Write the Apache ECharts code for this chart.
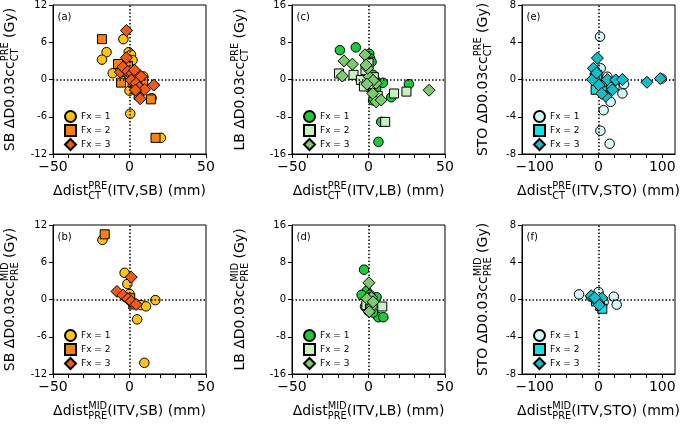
<!DOCTYPE html>
<html><head><meta charset="utf-8">
<script src="https://cdn.jsdelivr.net/npm/echarts@6/dist/echarts.min.js"></script>
<style>html,body{margin:0;padding:0;background:#fff}#c{width:685px;height:426px}</style>
</head><body><div id="c"></div>
<script>
const FONT = 'DejaVu Sans';

// ---------- data (x = Δdist mm, y = ΔD0.03cc Gy) ----------
// (a) SB, CT -> PRE
const sbPreFx1 = [[-4,6.5],[-15,4.4],[-18,3.2],[-0.5,4.4],[1,4.0],[2,3.1],[-11,1.0],[0,-1.8],[0.5,-5.5],[20.5,-9.4],[14.5,-3.0],[-2,2.5],[4,0.2],[7,-0.5],[9,0.5],[1,1.5]];
const sbPreFx2 = [[-18,6.5],[-7.5,2.5],[-5.5,-0.5],[-3,1.2],[0,0.8],[2,-0.5],[4,-1.5],[6,-2.5],[9,-0.2],[14,-3.2],[17,-9.4],[-1,2.2],[5,0.5]];
const sbPreFx3 = [[-2,7.9],[-2,3.5],[-6,1.2],[-4.3,2.0],[-1.1,1.3],[1.7,1.0],[3.3,1.5],[5.4,0.2],[7.6,0.5],[1.1,-0.1],[4.3,-0.6],[6.5,-1.3],[9.8,-1.6],[15.9,-0.9],[7,-3.1],[3.9,-1.7]];
// (b) SB, PRE -> MID
const sbMidFx1 = [[-17.7,9.6],[-3.2,4.3],[-1.4,2.5],[0,0.9],[-2,0.3],[7.6,-0.9],[10.8,-1.1],[16.9,-0.1],[5,-3.2],[9.7,-10.2],[2,-0.5]];
const sbMidFx2 = [[-16.2,10.5],[0.5,0.2],[2.5,-0.8]];
const sbMidFx3 = [[1.1,3.6],[-8.2,1.3],[-4.3,0.7],[-1.1,0.1],[1.1,-0.3],[4.3,-0.8]];
// (c) LB, CT -> PRE
const lbPreFx1 = [[-18.7,6.3],[-8.3,6.9],[0.5,5.5],[1,4.5],[2,3.8],[-1,2.5],[3,1.0],[-3,-0.5],[9.4,-0.7],[26.4,-1.0],[14.9,-3.8],[5,-2.0],[3,-4.5],[8.3,-9.1],[6.5,-13.4],[-0.5,-1.5],[4,0]];
const lbPreFx2 = [[-19.3,1.3],[-9.8,1.0],[-5,-0.1],[-2,2.0],[0,3.5],[2,-1.0],[3.5,0.5],[10.9,-9.1],[16.7,-3.0],[24.8,-2.6],[6,-3.5],[-3,-1.5]];
const lbPreFx3 = [[-16,4.0],[-10.5,3.3],[-2.3,5.3],[-17.1,0.75],[0.5,0.6],[-0.5,2.4],[-1.6,3.1],[5,-0.8],[2.8,-3.0],[5,-4.8],[8.3,-4.4],[39.6,-2.3],[3,-0.2],[-1,-1.0]];
// (d) LB, PRE -> MID
const lbMidFx1 = [[-2.9,6.4],[-1.2,1.8],[-4.5,1.0],[5.3,0.5],[6.4,-3.8],[9.7,-3.8],[-2.3,-1.5],[0,-2.5],[3,-2.8],[1,1.0]];
const lbMidFx2 = [[9,-1.5],[-1.4,-1.2],[1,-2.0]];
const lbMidFx3 = [[0.3,3.6],[2,0.4],[2,-1.6],[0.5,-2.6],[-1,0.2],[3,-0.5]];
// (e) STO, CT -> PRE
const stoPreFx1 = [[2.4,4.6],[3.5,1.2],[-2,0.5],[6,-0.2],[14,0.3],[40,-0.5],[37.5,-1.5],[19,-2.4],[8,-3.3],[3,-5.5],[17.5,-6.9],[99,0.1],[25,-0.8],[10,-1.5]];
const stoPreFx2 = [[-4.5,-1.1],[-2,0.5],[3,-0.5],[8,-1.0],[12,-0.3],[20,-0.8],[-6,0.2]];
const stoPreFx3 = [[-1.7,2.3],[-8,1.2],[-9.6,0.0],[0.8,-0.6],[14,0.0],[27,-0.05],[37.5,0.0],[11.3,-1.8],[22,-1.1],[76,-0.3],[97,0.1],[5,-1.5],[-3,0.7]];
// (f) STO, PRE -> MID
const stoMidFx1 = [[-30.5,0.55],[0,0.8],[24,0.3],[28.5,-0.55],[-12,0.3],[8,-0.3]];
const stoMidFx2 = [[2.6,-0.7],[6,-1.0],[-4,-0.2]];
const stoMidFx3 = [[-11.5,0.4],[5.5,0.15],[-2.5,-0.2],[1,-0.6],[-6,0.2]];

// ---------- tick labels ----------
const smallXTicks = [-50,-40,-30,-20,-10,0,10,20,30,40,50];
const smallXLabels = [-50,0,50];
const stoXTicks = [-100,-75,-50,-25,0,25,50,75,100];
const stoXLabels = [-100,0,100];
const sbYLabels = [-12,-6,0,6,12];
const lbYLabels = [-16,-8,0,8,16];
const stoYLabels = [-8,-4,0,4,8];
const legendNames = ['Fx = 1','Fx = 2','Fx = 3'];

const sbColors = ['#FFC312','#F7820F','#F05A14'];
const lbColors = ['#1CCB3A','#C8F0C0','#7DCB6E'];
const stoColors = ['#D4F6F6','#12E2E2','#16BCC6'];

const colLeft = [53, 292, 522];
const rowTop = [5, 225];
const GW = 153, GH = 149;

const panels = [
  {tag:'(a)', org:'SB', col:0, row:0, sup:'PRE', sub:'CT', xlim:[-50,50], xt:smallXTicks, xl:smallXLabels, yl:sbYLabels, colors:sbColors, data:[sbPreFx1,sbPreFx2,sbPreFx3]},
  {tag:'(b)', org:'SB', col:0, row:1, sup:'MID', sub:'PRE', xlim:[-50,50], xt:smallXTicks, xl:smallXLabels, yl:sbYLabels, colors:sbColors, data:[sbMidFx1,sbMidFx2,sbMidFx3]},
  {tag:'(c)', org:'LB', col:1, row:0, sup:'PRE', sub:'CT', xlim:[-50,50], xt:smallXTicks, xl:smallXLabels, yl:lbYLabels, colors:lbColors, data:[lbPreFx1,lbPreFx2,lbPreFx3]},
  {tag:'(d)', org:'LB', col:1, row:1, sup:'MID', sub:'PRE', xlim:[-50,50], xt:smallXTicks, xl:smallXLabels, yl:lbYLabels, colors:lbColors, data:[lbMidFx1,lbMidFx2,lbMidFx3]},
  {tag:'(e)', org:'STO', col:2, row:0, sup:'PRE', sub:'CT', xlim:[-120,120], xt:stoXTicks, xl:stoXLabels, yl:stoYLabels, colors:stoColors, data:[stoPreFx1,stoPreFx2,stoPreFx3]},
  {tag:'(f)', org:'STO', col:2, row:1, sup:'MID', sub:'PRE', xlim:[-120,120], xt:stoXTicks, xl:stoXLabels, yl:stoYLabels, colors:stoColors, data:[stoMidFx1,stoMidFx2,stoMidFx3]}
];

const symbols = ['circle','rect','diamond'];
const symSizes = [9.5, 9, 12];
const yTitleX = [10, 240, 483];

const mctx = document.createElement('canvas').getContext('2d');
function tw(s, size){ mctx.font = size + 'px "' + FONT + '"'; return mctx.measureText(s).width; }
function mathTitle(pre, sup, sub, post, x, y, rot){
  const big = 14, small = 9.8;
  const wPre = tw(pre, big), wPost = tw(post, big);
  const wS = Math.max(tw(sup, small), tw(sub, small));
  const total = wPre + wS + wPost;
  const x0 = -total/2;
  const st = (s, fs) => ({text:s, fontSize:fs, fontFamily:FONT, fill:'#000', textAlign:'left', textVerticalAlign:'middle'});
  return {type:'group', x:x, y:y, rotation:rot||0, silent:true, children:[
    {type:'text', x:x0, y:0, style:st(pre,big)},
    {type:'text', x:x0+wPre, y:-4.5, style:st(sup,small)},
    {type:'text', x:x0+wPre, y:5.5, style:st(sub,small)},
    {type:'text', x:x0+wPre+wS, y:0, style:st(post,big)}
  ]};
}

const option = {animation:false, backgroundColor:'#fff', grid:[], xAxis:[], yAxis:[], series:[], legend:[], graphic:[]};
panels.forEach((p, i) => {
  const L = colLeft[p.col], T = rowTop[p.row];
  option.grid.push({left:L, top:T, width:GW, height:GH, show:true, borderColor:'#000', borderWidth:1, backgroundColor:'transparent'});
  option.xAxis.push({gridIndex:i, type:'value', min:p.xlim[0], max:p.xlim[1],
    axisLine:{show:true, onZero:false, lineStyle:{color:'#000', width:1}},
    axisTick:{show:true, inside:false, length:4, lineStyle:{color:'#000', width:1}, customValues:p.xt},
    axisLabel:{customValues:p.xl, fontSize:14, fontFamily:FONT, color:'#000', margin:6,
      formatter:v => v < 0 ? '\u2212' + Math.abs(v) : String(v)},
    splitLine:{show:false}});
  const yint = p.yl[1] - p.yl[0];
  option.yAxis.push({gridIndex:i, type:'value', min:p.yl[0], max:p.yl[p.yl.length-1], interval:yint,
    axisLine:{show:true, onZero:false, lineStyle:{color:'#000', width:1}},
    axisTick:{show:true, inside:false, length:4, lineStyle:{color:'#000', width:1}},
    axisLabel:{fontSize:10, fontFamily:FONT, color:'#000', margin:6, showMinLabel:true, showMaxLabel:true,
      formatter:v => String(v)},
    splitLine:{show:false}});
  // dotted zero lines
  option.series.push({type:'scatter', xAxisIndex:i, yAxisIndex:i, data:[], silent:true, z:1,
    markLine:{silent:true, symbol:'none', animation:false, label:{show:false},
      lineStyle:{color:'#000', type:[1.5,2], width:1.5}, emphasis:{disabled:true},
      data:[{xAxis:0},{yAxis:0}]}});
  const names = [];
  p.data.forEach((d, k) => {
    const nm = p.tag + ' ' + legendNames[k];
    names.push({name:nm, icon:symbols[k]});
    option.series.push({type:'scatter', name:nm, xAxisIndex:i, yAxisIndex:i, data:d,
      symbol:symbols[k], symbolSize:symSizes[k], z:3+k,
      itemStyle:{color:p.colors[k], borderColor:'#000', borderWidth:1, opacity:1},
      emphasis:{disabled:true}});
  });
  option.legend.push({orient:'vertical', left:L+11, top:T+105 + p.row*-1, itemWidth:11, itemHeight:11, itemGap:1,
    padding:0, selectedMode:false, data:names,
    formatter:n => n.slice(n.indexOf('Fx')),
    textStyle:{fontSize:9, fontFamily:FONT, color:'#000', lineHeight:11}});
  option.graphic.push({type:'text', left:L+4.5, top:T+7, silent:true,
    style:{text:p.tag, fontSize:10, fontFamily:FONT, fill:'#000'}});
  option.graphic.push(mathTitle('\u0394dist', p.sup, p.sub, '(ITV,' + p.org + ') (mm)', L + GW/2, T + GH + 37));
  option.graphic.push(mathTitle(p.org + ' \u0394D0.03cc', p.sup, p.sub, ' (Gy)', yTitleX[p.col], T + GH/2, Math.PI/2));
});

const chart = echarts.init(document.getElementById('c'), null, {renderer:'canvas'});
chart.setOption(option);
</script>
</body></html>
